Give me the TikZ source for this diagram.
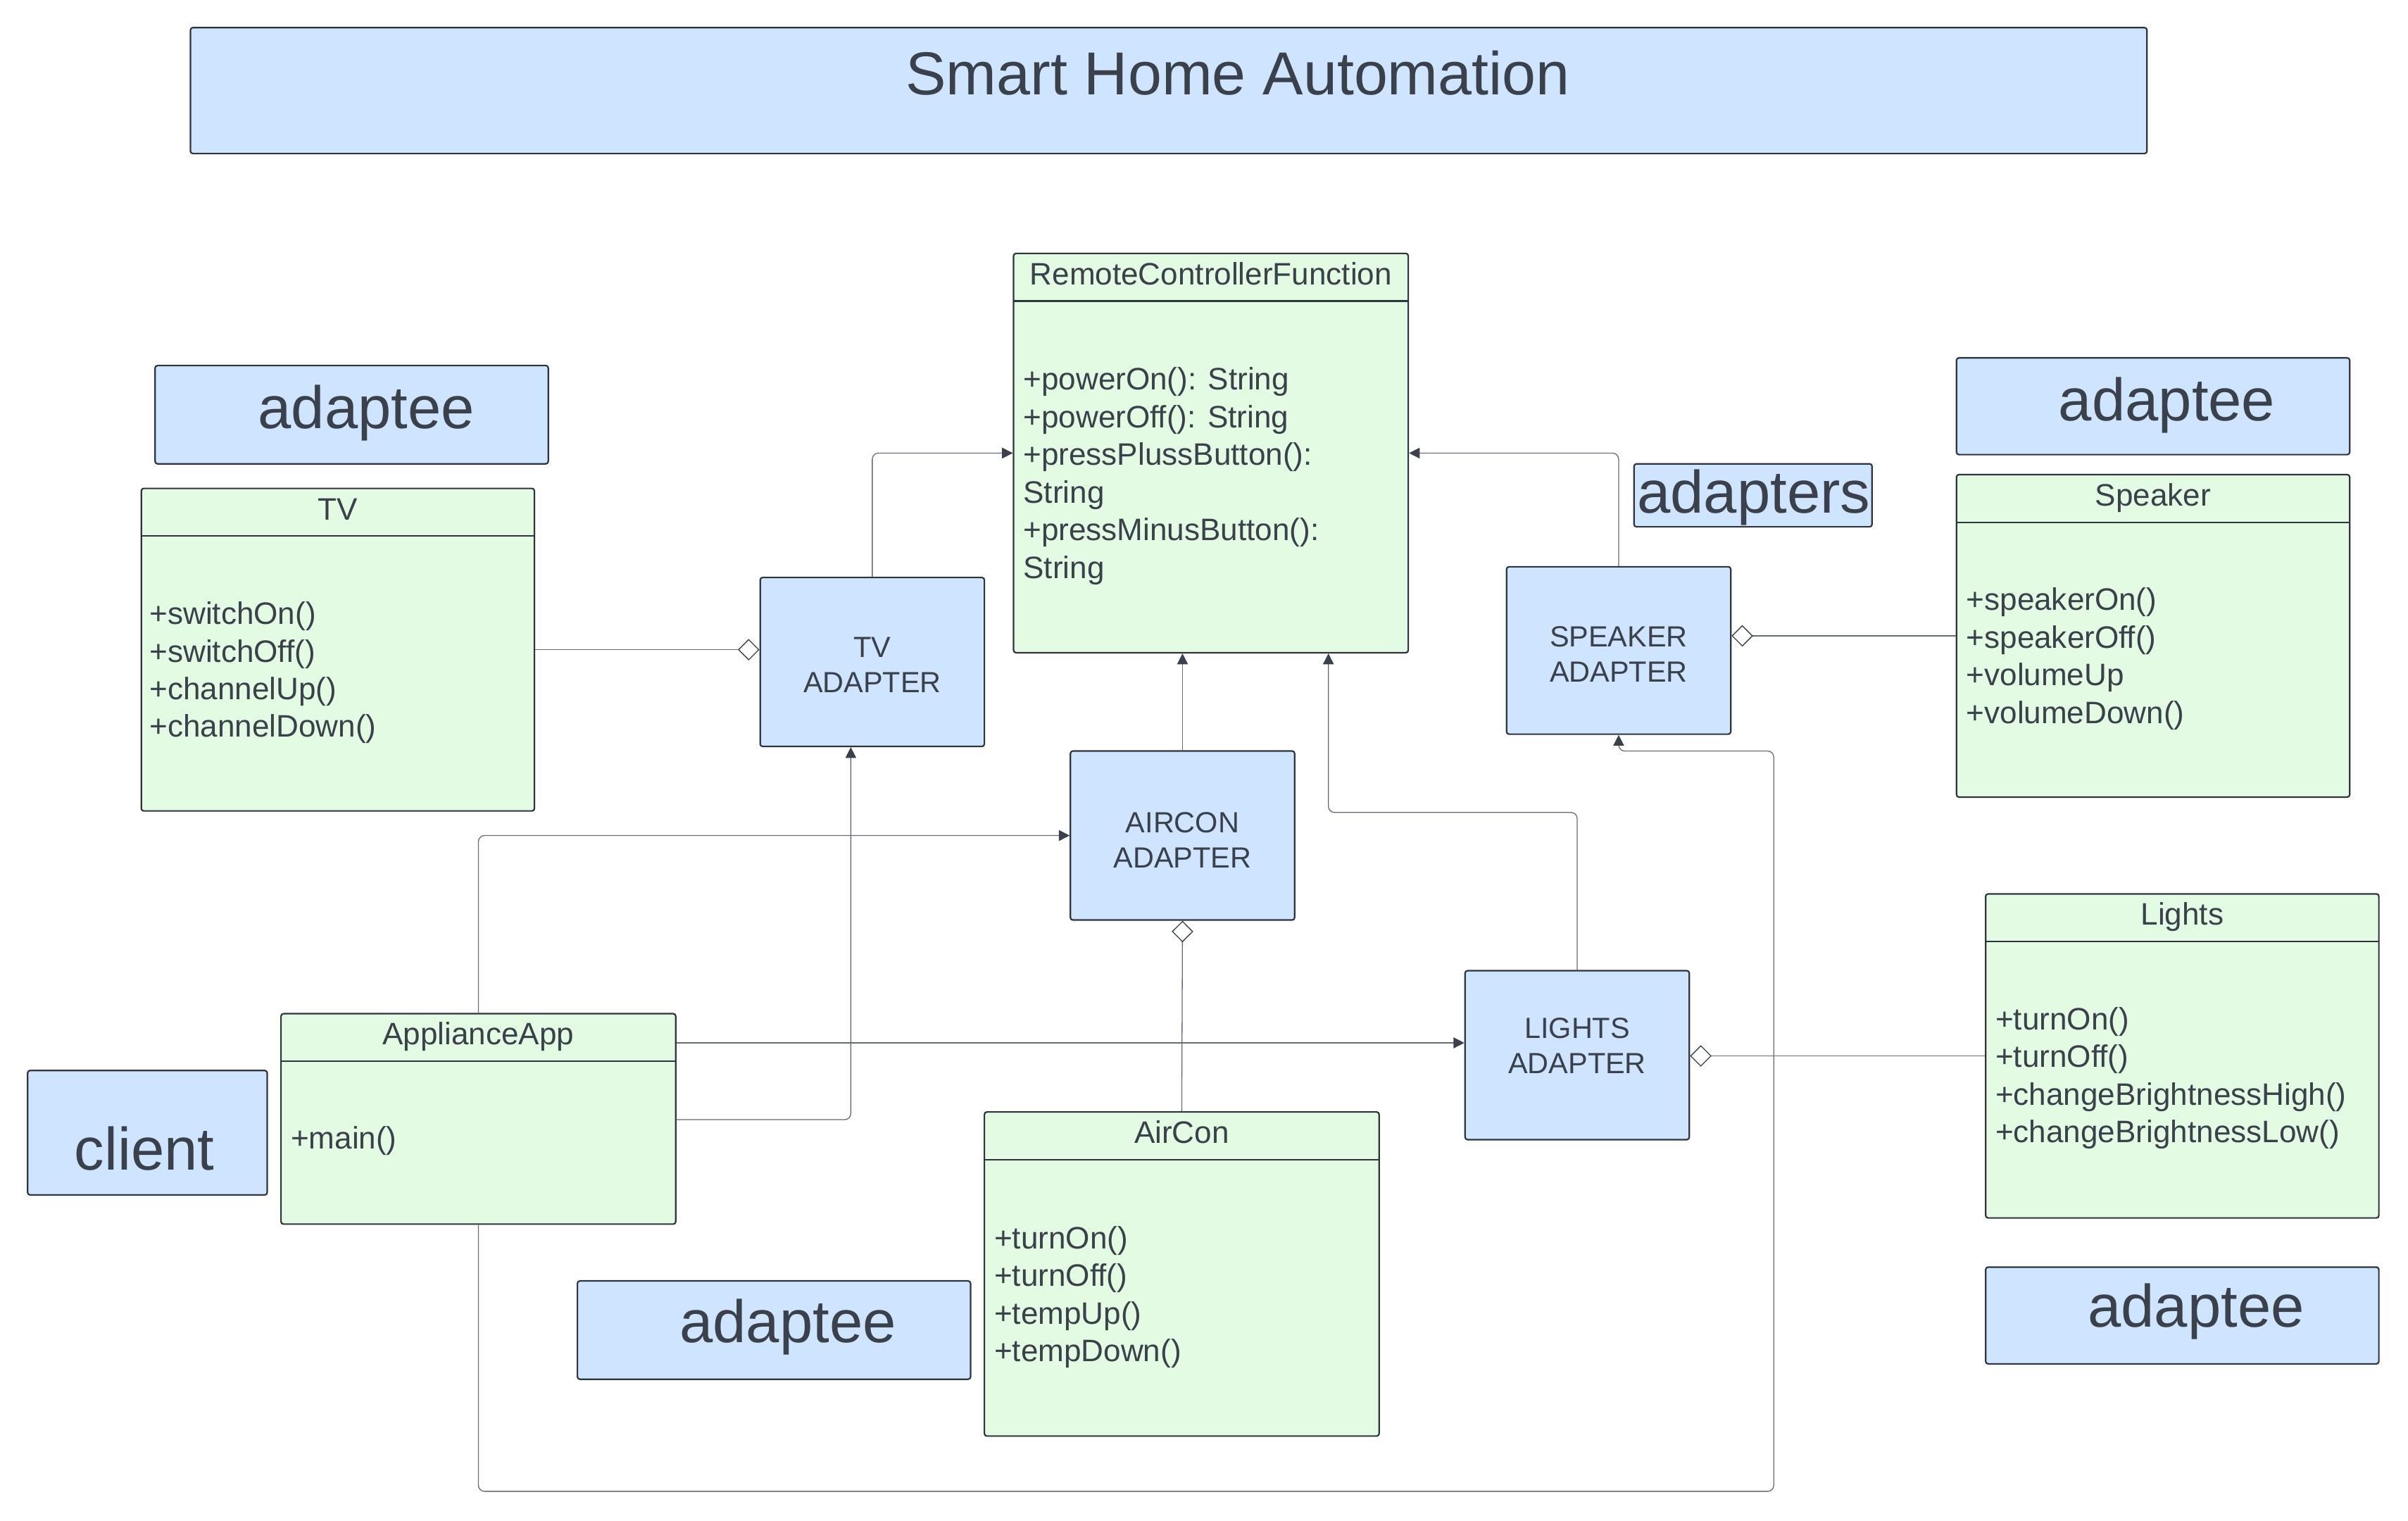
\documentclass[tikz,border=0pt]{standalone}
\usepackage{fontspec}
\setmainfont{Liberation Sans}
\usetikzlibrary{fit,arrows.meta}
\definecolor{bluef}{HTML}{CFE4FF}
\definecolor{greenf}{HTML}{E3FAE3}
\definecolor{bordc}{HTML}{2F353D}
\definecolor{txtc}{HTML}{3A414A}
\definecolor{connc}{HTML}{656C75}
\definecolor{tipc}{HTML}{3A414A}
\begin{document}
\begin{tikzpicture}[x=0.5pt,y=-0.5pt,
 box/.style={draw=bordc, line width=0.5pt, rounded corners=0.8pt, inner sep=0pt},
 bbox/.style={box, fill=bluef},
 gbox/.style={box, fill=greenf},
 divider/.style={draw=bordc, line width=0.5pt},
 txt/.style={text=txtc, inner sep=0pt},
 head/.style={txt, font=\fontsize{10.1}{12.25}\selectfont, text height=7.3pt, text depth=0pt},
 body/.style={txt, font=\fontsize{10.1}{12.25}\selectfont, align=left, anchor=west},
 alabel/.style={txt, font=\fontsize{9.5}{11.5}\selectfont, align=center},
 big/.style={txt, font=\fontsize{19.5}{23}\selectfont},
 conn/.style={draw=connc, line width=0.3pt, rounded corners=2pt},
 arr/.style={-{Triangle[length=3.5pt,width=3.5pt,color=tipc]}},
 agg/.style={-{Diamond[length=7pt,width=7pt,fill=white,color=tipc]}},
]
\useasboundingbox (0,0) rectangle (1568,990.3);

% title
\node[bbox, fit={(124,18)(1398,100)}] (titlebox) {};
\node[txt, font=\fontsize{19.75}{24}\selectfont, anchor=base] (title) at (806,61.7) {Smart Home Automation};

% RemoteControllerFunction
\node[gbox, fit={(660,165)(917,425)}] (rcf) {};
\draw[divider] (660,196) -- (917,196);
\node[head] (rcfT) at (788.5,178) {RemoteControllerFunction};
\node[body] (rcfB) at (666,310) {+powerOn(): String\\+powerOff(): String\\+pressPlussButton():\\String\\+pressMinusButton():\\String};

% adaptee top left
\node[bbox, fit={(101,238)(357,302)}] (adTL) {};
\node[big] (adTLt) at (238.5,269) {adaptee};

% TV
\node[gbox, fit={(92,318)(348,528)}] (tv) {};
\draw[divider] (92,349) -- (348,349);
\node[head] (tvT) at (220,331.5) {TV};
\node[body] (tvB) at (97,438) {+switchOn()\\+switchOff()\\+channelUp()\\+channelDown()};

% TV adapter
\node[bbox, fit={(495,376)(641,486)}] (tva) {};
\node[alabel] (tvaT) at (568,433) {TV\\ADAPTER};

% adapters label
\node[bbox, fit={(1064,302)(1219,343)}] (adp) {};
\node[big] (adpT) at (1142,324) {adapters};

% adaptee top right
\node[bbox, fit={(1274,233)(1530,296)}] (adTR) {};
\node[big] (adTRt) at (1411,264) {adaptee};

% Speaker
\node[gbox, fit={(1274,309)(1530,519)}] (spk) {};
\draw[divider] (1274,340) -- (1530,340);
\node[head] (spkT) at (1402,322) {Speaker};
\node[body] (spkB) at (1280,429) {+speakerOn()\\+speakerOff()\\+volumeUp\\+volumeDown()};

% Speaker adapter
\node[bbox, fit={(981,369)(1127,478)}] (spa) {};
\node[alabel] (spaT) at (1054,426) {SPEAKER\\ADAPTER};

% Aircon adapter
\node[bbox, fit={(697,489)(843,599)}] (aca) {};
\node[alabel] (acaT) at (770,547) {AIRCON\\ADAPTER};

% Lights adapter
\node[bbox, fit={(954,632)(1100,742)}] (lta) {};
\node[alabel] (ltaT) at (1027,681) {LIGHTS\\ADAPTER};

% Lights
\node[gbox, fit={(1293,582)(1549,793)}] (lt) {};
\draw[divider] (1293,613) -- (1549,613);
\node[head] (ltT) at (1421,595) {Lights};
\node[body] (ltB) at (1299,702) {+turnOn()\\+turnOff()\\+changeBrightnessHigh()\\+changeBrightnessLow()};

% adaptee bottom right
\node[bbox, fit={(1293,825)(1549,888)}] (adBR) {};
\node[big] (adBRt) at (1430,854) {adaptee};

% ApplianceApp
\node[gbox, fit={(183,660)(440,797)}] (app) {};
\draw[divider] (183,691) -- (440,691);
\node[head] (appT) at (311.5,673) {ApplianceApp};
\node[body] (appB) at (189,743) {+main()};

% client
\node[bbox, fit={(18,697)(174,778)}] (client) {};
\node[big] (clientT) at (94,748) {client};

% AirCon
\node[gbox, fit={(641,724)(898,935)}] (ac) {};
\draw[divider] (641,755) -- (898,755);
\node[head] (acT) at (769.5,737) {AirCon};
\node[body] (acB) at (647,844.5) {+turnOn()\\+turnOff()\\+tempUp()\\+tempDown()};

% adaptee bottom left
\node[bbox, fit={(376,834)(632,898)}] (adBL) {};
\node[big] (adBLt) at (513,864) {adaptee};

% helper coordinates
\coordinate (lbend) at (865,529);
\coordinate (tvin) at (554,729);
\coordinate (lin) at (954,679);
\coordinate (b2) at (1155,971);
\coordinate (b3) at (1155,489);

% connectors
\draw[conn, agg] (tv.east) -- (tv.east -| tva.west);
\draw[conn, arr] (tva.north) |- (rcf.west);
\draw[conn, arr] (spa.north) |- (rcf.east);
\draw[conn, agg] (spk.west) -- (spk.west -| spa.east);
\draw[conn, arr] (aca.north) -- (aca.north |- rcf.south);
\draw[conn, arr] (lta.north) |- (lbend) -- (lbend |- rcf.south);
\draw[conn, agg] (ac.north) -- (aca.south);
\draw[conn, agg] (lt.west) -- (lt.west -| lta.east);
\draw[conn, arr] (app.north) |- (aca.west);
\draw[conn, arr] (app.east |- tvin) -- (tvin) -- (tvin |- tva.south);
\draw[conn, arr] (app.east |- lin) -- (lin -| lta.west);
\draw[conn, arr] (app.south) |- (b2) -- (b3) -| (spa.south);
\end{tikzpicture}
\end{document}
